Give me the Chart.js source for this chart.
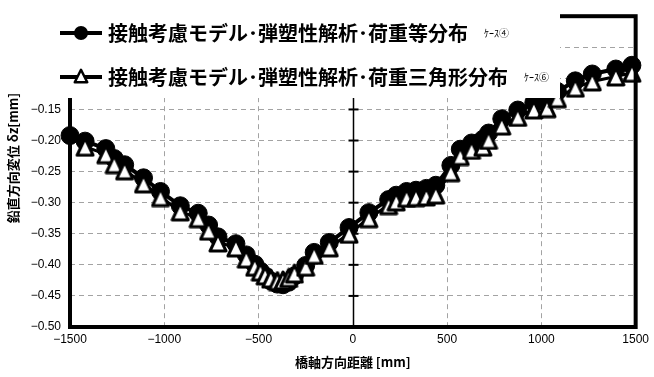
<!DOCTYPE html>
<html>
<head>
<meta charset="utf-8">
<script src="https://cdn.jsdelivr.net/npm/chart.js@4/dist/chart.umd.min.js"></script>
<style>
  html, body { margin: 0; padding: 0; background: #fff; }
  #wrap { width: 654px; height: 377px; }
</style>
</head>
<body>
<div id="wrap"><canvas id="c" width="654" height="377"></canvas></div>
<script>
// Series names and case tags
const seriesNames = [
  '接触考慮モデル･弾塑性解析･荷重等分布',
  '接触考慮モデル･弾塑性解析･荷重三角形分布'
];
const caseTags = ['ｹｰｽ④', 'ｹｰｽ⑥'];

// Axis titles
const xTitle = '橋軸方向距離 [mm]';
const yTitle = '鉛直方向変位 δz[mm]';

// Case 4: uniform load distribution (filled circles)
const xUniform = [-1500, -1420, -1310, -1265, -1210, -1110, -1020, -915, -820, -765, -715, -620, -565, -520, -490, -465, -435, -400, -370, -340, -310, -250, -205, -125, -20, 85, 190, 230, 285, 335, 390, 440, 520, 570, 630, 690, 720, 790, 875, 960, 1030, 1085, 1180, 1270, 1395, 1480];
const yUniform = [-0.192, -0.201, -0.213, -0.229, -0.239, -0.260, -0.282, -0.305, -0.317, -0.336, -0.355, -0.366, -0.384, -0.399, -0.410, -0.418, -0.426, -0.431, -0.432, -0.428, -0.418, -0.401, -0.380, -0.364, -0.340, -0.316, -0.295, -0.288, -0.282, -0.280, -0.277, -0.272, -0.240, -0.214, -0.204, -0.198, -0.188, -0.165, -0.151, -0.139, -0.136, -0.121, -0.104, -0.093, -0.085, -0.079];

// Case 6: triangular load distribution (open triangles)
const xTriangular = [-1420, -1310, -1265, -1210, -1110, -1020, -915, -820, -765, -715, -620, -565, -520, -490, -465, -435, -400, -370, -340, -310, -250, -205, -125, -20, 85, 190, 230, 285, 335, 390, 440, 520, 570, 630, 690, 720, 790, 875, 960, 1030, 1085, 1180, 1270, 1395, 1480];
const yTriangular = [-0.210, -0.222, -0.238, -0.248, -0.269, -0.291, -0.314, -0.325, -0.345, -0.364, -0.372, -0.390, -0.403, -0.411, -0.417, -0.422, -0.426, -0.425, -0.421, -0.414, -0.403, -0.384, -0.372, -0.350, -0.325, -0.304, -0.298, -0.292, -0.291, -0.290, -0.287, -0.251, -0.225, -0.215, -0.210, -0.199, -0.176, -0.162, -0.150, -0.148, -0.132, -0.115, -0.105, -0.097, -0.091];

// Axis ranges
const xRange = [-1500, 1500];
const xStep = 500;
const yRange = [-0.50, 0.00];
const yStep = 0.05;

const toPoints = (xs, ys) => xs.map((x, i) => ({ x: x, y: ys[i] }));
const minusSign = s => s.replace('-', '\u2212');

// Open triangle marker, a little taller than equilateral
function triangleMarker(w, h, lw) {
  const c = document.createElement('canvas');
  c.width = w; c.height = h;
  const g = c.getContext('2d');
  const m = lw / 2 + 0.5;
  g.beginPath();
  g.moveTo(w / 2, m);
  g.lineTo(w - m, h - m);
  g.lineTo(m, h - m);
  g.closePath();
  g.fillStyle = '#fff';
  g.fill();
  g.lineWidth = lw;
  g.lineJoin = 'round';
  g.strokeStyle = '#000';
  g.stroke();
  return c;
}
const triMark = triangleMarker(20, 21, 3);
const triLegend = triangleMarker(16, 16, 2.5);

// Solid zero line with cross ticks at every y step
const zeroLinePlugin = {
  id: 'zeroLine',
  beforeDatasetsDraw(chart) {
    const { ctx, chartArea, scales } = chart;
    const x0 = Math.round(scales.x.getPixelForValue(0)) + 0.5;
    ctx.save();
    ctx.strokeStyle = '#000';
    ctx.lineWidth = 1.5;
    ctx.beginPath();
    ctx.moveTo(x0, chartArea.top);
    ctx.lineTo(x0, chartArea.bottom);
    ctx.stroke();
    ctx.lineWidth = 2;
    for (let v = yRange[0]; v <= yRange[1] + 1e-9; v += yStep) {
      const y = scales.y.getPixelForValue(v);
      ctx.beginPath();
      ctx.moveTo(x0 - 5, y);
      ctx.lineTo(x0 + 5, y);
      ctx.stroke();
    }
    ctx.restore();
  }
};

// Heavy frame round the plot, the legend panel on top, and the vertical axis title
const framePlugin = {
  id: 'frameAndLegend',
  afterDatasetsDraw(chart) {
    const { ctx, chartArea } = chart;
    ctx.save();
    ctx.strokeStyle = '#000';
    ctx.lineWidth = 4;
    ctx.strokeRect(chartArea.left, chartArea.top, chartArea.right - chartArea.left, chartArea.bottom - chartArea.top);

    // legend panel
    ctx.fillStyle = '#fff';
    ctx.fillRect(0, 0, 560, 98);

    const rows = [33, 77];
    chart.data.datasets.forEach((ds, i) => {
      const y = rows[i];
      ctx.strokeStyle = '#000';
      ctx.lineWidth = 4;
      ctx.beginPath();
      ctx.moveTo(60, y);
      ctx.lineTo(102, y);
      ctx.stroke();
      const mx = 81;
      if (ds.pointStyle instanceof HTMLCanvasElement) {
        ctx.drawImage(triLegend, mx - triLegend.width / 2, y - triLegend.height / 2 - 1);
      } else {
        ctx.beginPath();
        ctx.arc(mx, y, 7, 0, Math.PI * 2);
        ctx.fillStyle = '#000';
        ctx.fill();
      }
      ctx.fillStyle = '#000';
      ctx.textBaseline = 'middle';
      ctx.textAlign = 'left';
      ctx.font = 'bold 20px "Noto Sans CJK JP"';
      ctx.fillText(ds.label, 108, y);
      const w = ctx.measureText(ds.label).width;
      ctx.font = '10px "Noto Sans CJK JP"';
      ctx.fillText(caseTags[i], 108 + w + 16, y);
    });

    // vertical axis title
    ctx.translate(13, 158);
    ctx.rotate(-Math.PI / 2);
    ctx.textAlign = 'center';
    ctx.textBaseline = 'middle';
    ctx.font = 'bold 13px "Noto Sans CJK JP"';
    ctx.fillStyle = '#000';
    ctx.fillText(yTitle, 0, 0);
    ctx.restore();
  }
};

new Chart(document.getElementById('c'), {
  type: 'scatter',
  data: {
    datasets: [
      {
        label: seriesNames[0],
        data: toPoints(xUniform, yUniform),
        showLine: true,
        borderColor: '#000',
        borderWidth: 4,
        pointStyle: 'circle',
        pointRadius: 9,
        pointBackgroundColor: '#000',
        pointBorderColor: '#000',
        pointBorderWidth: 1,
        tension: 0,
        clip: false,
        order: 2
      },
      {
        label: seriesNames[1],
        data: toPoints(xTriangular, yTriangular),
        showLine: true,
        borderColor: '#000',
        borderWidth: 3,
        pointStyle: triMark,
        pointRadius: 10,
        tension: 0,
        clip: false,
        order: 1
      }
    ]
  },
  options: {
    responsive: false,
    animation: false,
    devicePixelRatio: 1,
    layout: { padding: { left: 0, right: 12, top: 16, bottom: 0 } },
    plugins: { legend: { display: false }, tooltip: { enabled: false } },
    scales: {
      x: {
        type: 'linear',
        min: xRange[0],
        max: xRange[1],
        afterFit(scale) { scale.height = 50; },
        ticks: {
          stepSize: xStep,
          padding: 5,
          color: '#000',
          font: { family: '"Liberation Sans", Arial, sans-serif', size: 12 },
          callback: v => minusSign(String(v))
        },
        grid: {
          drawTicks: false,
          lineWidth: 1,
          color: c => (c.tick && c.tick.value === 0) ? 'rgba(0,0,0,0)' : '#a3a3a3'
        },
        border: { display: false, dash: [5, 4] },
        title: {
          display: true,
          text: xTitle,
          color: '#000',
          padding: { top: 0, bottom: 7 },
          font: { family: '"Noto Sans CJK JP"', size: 13, weight: 'bold' }
        }
      },
      y: {
        min: yRange[0],
        max: yRange[1],
        afterFit(scale) { scale.width = 70; },
        ticks: {
          stepSize: yStep,
          padding: 9,
          color: '#000',
          font: { family: '"Liberation Sans", Arial, sans-serif', size: 12 },
          callback: v => minusSign(Number(v).toFixed(2))
        },
        grid: {
          drawTicks: false,
          lineWidth: 1,
          color: '#a3a3a3'
        },
        border: { display: false, dash: [5, 4] }
      }
    }
  },
  plugins: [zeroLinePlugin, framePlugin]
});
</script>
</body>
</html>
